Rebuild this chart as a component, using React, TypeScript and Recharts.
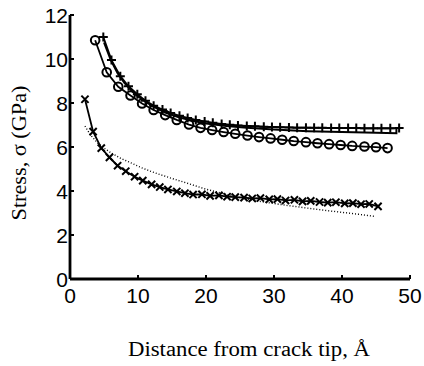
import React from 'react';
import { LineChart, Line, XAxis, YAxis, Label } from 'recharts';

// Circle series (o)
const circleX = [3.7, 5.4, 7.1, 8.9, 10.6, 12.3, 14.0, 15.7, 17.5, 19.2, 20.9, 22.6, 24.3, 26.1, 27.8, 29.5, 31.2, 32.9, 34.7, 36.4, 38.1, 39.8, 41.5, 43.3, 45.0, 46.7];
const circleY = [10.85, 9.4, 8.74, 8.34, 7.98, 7.68, 7.45, 7.23, 7.02, 6.87, 6.77, 6.68, 6.6, 6.52, 6.45, 6.39, 6.33, 6.27, 6.22, 6.17, 6.13, 6.09, 6.05, 6.02, 5.99, 5.95];

// Plus series (+)
const plusX = [4.9, 6.1, 7.4, 8.6, 9.9, 11.1, 12.3, 13.6, 14.8, 16.1, 17.3, 18.5, 19.8, 21.0, 22.3, 23.5, 24.7, 26.0, 27.2, 28.5, 29.7, 30.9, 32.2, 33.4, 34.7, 35.9, 37.1, 38.4, 39.6, 40.9, 42.1, 43.3, 44.6, 45.8, 47.1, 48.4];
const plusY = [11.0, 9.95, 9.22, 8.76, 8.4, 8.1, 7.88, 7.7, 7.55, 7.42, 7.32, 7.23, 7.16, 7.1, 7.05, 7.01, 6.98, 6.96, 6.94, 6.92, 6.91, 6.9, 6.89, 6.88, 6.88, 6.87, 6.87, 6.86, 6.86, 6.86, 6.86, 6.85, 6.85, 6.85, 6.85, 6.86];

// Cross series (x)
const crossX = [2.2, 3.4, 4.6, 5.8, 7.0, 8.2, 9.5, 10.7, 12.0, 13.2, 14.4, 15.7, 16.9, 18.1, 19.4, 20.6, 21.9, 23.1, 24.3, 25.6, 26.8, 28.0, 29.3, 30.5, 31.7, 33.0, 34.2, 35.4, 36.7, 37.9, 39.1, 40.4, 41.6, 42.8, 44.0, 45.3];
const crossY = [8.17, 6.7, 5.95, 5.53, 5.15, 4.9, 4.65, 4.47, 4.3, 4.18, 4.07, 3.98, 3.9, 3.84, 3.85, 3.78, 3.8, 3.74, 3.72, 3.7, 3.66, 3.68, 3.62, 3.63, 3.57, 3.6, 3.53, 3.55, 3.5, 3.47, 3.49, 3.44, 3.45, 3.4, 3.41, 3.3];

// Fitted curve for the upper pair (solid)
const fitTopX = [5.0, 6.0, 7.0, 8.0, 9.0, 10.0, 12.0, 14.0, 16.0, 18.0, 20.0, 23.0, 26.0, 30.0, 35.0, 40.0, 45.0, 48.0, 48.0];
const fitTopY = [10.75, 9.95, 9.35, 8.92, 8.58, 8.3, 7.88, 7.57, 7.35, 7.19, 7.07, 6.95, 6.87, 6.79, 6.72, 6.68, 6.65, 6.63, 6.86];

// Fitted curve for the lower series (dotted)
const fitLowX = [2.2, 3.0, 4.0, 5.0, 6.1, 7.5, 9.1, 10.5, 12.0, 13.5, 15.0, 17.5, 20.0, 22.5, 25.0, 27.5, 30.0, 32.5, 35.0, 37.5, 40.0, 42.5, 44.7];
const fitLowY = [6.95, 6.55, 6.2, 5.95, 5.72, 5.48, 5.26, 5.06, 4.88, 4.72, 4.57, 4.33, 4.08, 3.88, 3.7, 3.55, 3.43, 3.32, 3.22, 3.12, 3.03, 2.94, 2.85];

const xTicks = [0, 10, 20, 30, 40, 50];
const yTicks = [0, 2, 4, 6, 8, 10, 12];

const zip = (xs: number[], ys: number[]) => xs.map((x, i) => ({ x, y: ys[i] }));

const circleData = zip(circleX, circleY);
const plusData = zip(plusX, plusY);
const crossData = zip(crossX, crossY);
const fitTopData = zip(fitTopX, fitTopY);
const fitLowData = zip(fitLowX, fitLowY);

const SANS = "'Liberation Sans', Arial, Helvetica, sans-serif";
const SERIF = "'Liberation Serif', 'Times New Roman', serif";
const INK = '#000';

const CircleDot = (p: any) => (
  <circle key={`c${p.index}`} cx={p.cx} cy={p.cy} r={4.3} fill="none" stroke={INK} strokeWidth={2} />
);

const PlusDot = (p: any) => (
  <path
    key={`p${p.index}`}
    d={`M${p.cx - 4.5},${p.cy}H${p.cx + 4.5}M${p.cx},${p.cy - 4.5}V${p.cy + 4.5}`}
    stroke={INK}
    strokeWidth={2}
    fill="none"
  />
);

const CrossDot = (p: any) => (
  <path
    key={`x${p.index}`}
    d={`M${p.cx - 3.6},${p.cy - 3.6}L${p.cx + 3.6},${p.cy + 3.6}M${p.cx - 3.6},${p.cy + 3.6}L${p.cx + 3.6},${p.cy - 3.6}`}
    stroke={INK}
    strokeWidth={2}
    fill="none"
  />
);

const XTick = (p: any) => (
  <text x={p.x} y={p.y + 24} textAnchor="middle" fontFamily={SANS} fontSize={21} fill={INK}>
    {p.payload.value}
  </text>
);

const YTick = (p: any) => (
  <text x={p.x - 2} y={p.y + 7.5} textAnchor="end" fontFamily={SANS} fontSize={21} fill={INK}>
    {p.payload.value}
  </text>
);

const XTitle = (p: any) => {
  const vb = p.viewBox;
  return (
    <text
      x={vb.x + vb.width / 2 + 9}
      y={vb.y + 77}
      textAnchor="middle"
      fontFamily={SERIF}
      fontSize={20}
      textLength={242}
      lengthAdjust="spacingAndGlyphs"
      fill={INK}
    >
      Distance from crack tip, Å
    </text>
  );
};

const YTitle = () => (
  <text
    x={0}
    y={0}
    transform="translate(26,153) rotate(-90)"
    textAnchor="middle"
    fontFamily={SERIF}
    fontSize={20}
    textLength={135}
    lengthAdjust="spacingAndGlyphs"
    fill={INK}
  >
    Stress, σ (GPa)
  </text>
);

export default function App() {
  return (
    <div style={{ position: 'absolute', left: 0, top: 0, width: 424, height: 366, background: '#fff' }}>
      <LineChart width={424} height={366} margin={{ top: 15, right: 14, bottom: 57, left: 20 }}>
        <XAxis
          dataKey="x"
          type="number"
          domain={[0, 50]}
          ticks={xTicks}
          allowDataOverflow
          height={30}
          axisLine={{ stroke: INK, strokeWidth: 2.8 }}
          tickLine={{ stroke: INK, strokeWidth: 2 }}
          tickSize={-4}
          tickMargin={4}
          tick={<XTick />}
        >
          <Label content={<XTitle />} />
        </XAxis>
        <YAxis
          type="number"
          domain={[0, 12]}
          ticks={yTicks}
          width={50}
          axisLine={{ stroke: INK, strokeWidth: 2.8 }}
          tickLine={{ stroke: INK, strokeWidth: 2 }}
          tickSize={-4}
          tickMargin={4}
          tick={<YTick />}
        >
          <Label content={<YTitle />} />
        </YAxis>
        <Line data={fitLowData} dataKey="y" stroke={INK} strokeWidth={1.4} strokeDasharray="1 2" dot={false} isAnimationActive={false} />
        <Line data={fitTopData} dataKey="y" stroke={INK} strokeWidth={2} dot={false} isAnimationActive={false} />
        <Line data={circleData} dataKey="y" stroke={INK} strokeWidth={1.8} dot={CircleDot} isAnimationActive={false} />
        <Line data={plusData} dataKey="y" stroke={INK} strokeWidth={1.8} dot={PlusDot} isAnimationActive={false} />
        <Line data={crossData} dataKey="y" stroke={INK} strokeWidth={1.8} dot={CrossDot} isAnimationActive={false} />
      </LineChart>
    </div>
  );
}
